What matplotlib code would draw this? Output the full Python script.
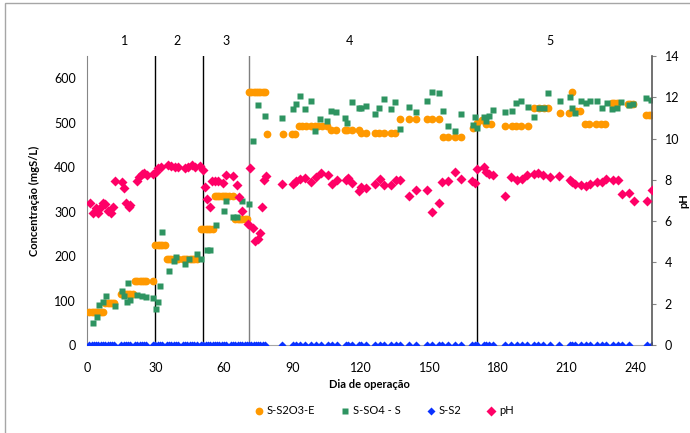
import matplotlib
matplotlib.use("Agg")
import matplotlib.pyplot as plt
from matplotlib.lines import Line2D
from matplotlib.patches import Rectangle

plt.rcParams['font.family'] = ['Lato', 'DejaVu Sans']

# S-S2O3-E (mgS/L)
dias_s2o3 = [1, 2, 3, 4, 5, 6, 7, 8, 9, 10, 11, 12, 15, 16, 17, 18, 19, 20,
             21, 22, 23, 24, 25, 26, 29, 30, 31, 32, 33, 34, 35, 36, 37, 38, 39, 40,
             42, 43, 44, 45, 46, 47, 48, 50, 51, 52, 53, 54, 55,
             56, 57, 58, 59, 60, 61, 62, 64, 65, 66, 67, 68, 69, 70,
             71, 72, 73, 74, 75, 76, 77, 78, 79, 86, 90, 91,
             93, 94, 96, 98, 100, 101, 103, 105, 107, 109, 113, 114, 116, 119,
             120, 122, 126, 128, 130, 133, 135, 137, 141, 144, 149, 151, 154,
             156, 158, 161, 164, 169, 171, 173, 175, 177,
             183, 186, 188, 190, 193, 196, 198, 200, 202, 207, 211, 212.5, 214, 216,
             218, 220, 223, 225, 227, 230, 231, 232, 237, 238, 239, 245, 246, 247]
s2o3 = [75, 75, 75, 75, 75, 75, 75, 95, 95, 95, 95, 95, 115, 115, 115, 115, 115, 115,
        145, 145, 145, 145, 145, 145, 145, 225, 225, 225, 225, 225, 193, 193, 193, 193, 193, 193,
        193, 193, 193, 193, 193, 193, 193, 261, 261, 261, 261, 261, 261,
        336, 336, 336, 336, 336, 336, 336, 336, 283, 283, 283, 283, 283, 283,
        568, 568, 568, 568, 568, 568, 568, 568, 474, 474, 474, 474,
        492, 492, 492, 492, 492, 492, 492, 492, 483, 483, 483, 483, 483, 483,
        477, 477, 477, 477, 477, 477, 477, 509, 509, 509, 509, 509, 509,
        468, 468, 468, 468, 487, 500, 507, 498, 498,
        492, 492, 492, 492, 492, 532, 532, 532, 532, 522, 522, 569, 527, 527,
        496, 496, 496, 496, 496, 545, 545, 545, 541, 541, 541, 518, 518, 518]

# S-SO4 - S (mgS/L)
dias_so4 = [2.8, 4.2, 5.4, 6.9, 8.3, 12.3, 15.2, 16.2, 17.4, 18, 19, 22, 24, 26, 29,
            30.2, 31, 32, 33, 36, 38.2, 39, 43, 44.8, 48, 50, 52.4, 54, 56.7, 60, 60.7,
            64, 65.8, 68, 70.8, 72.8, 74.7, 77.8, 85.6, 90.3, 91.7, 93.5, 95.5, 98.3,
            100, 102, 105, 107, 109, 113, 114, 116, 119, 120, 122, 126, 128, 130, 133,
            135, 137, 141, 144, 149, 151, 154, 156, 158, 161, 164, 169, 170, 171,
            174, 175, 176, 178, 183, 186, 188, 190, 193, 196, 198, 200, 202, 207,
            211.5, 212.6, 213.6, 216.6, 218.5, 220.5, 223.4, 225.6, 227.6, 230, 232,
            234, 237.6, 239, 244.9, 247]
so4 = [50, 64, 90, 97, 110, 88, 122, 110, 97, 139, 101, 112, 111, 109, 106,
       80, 97, 133, 254, 166, 189, 198, 182, 193, 204, 193, 213, 213, 270, 301, 323,
       288, 288, 323, 317, 458, 540, 514, 510, 530, 542, 560, 530, 548,
       482, 509, 504, 527, 524, 510, 500, 546, 533, 534, 537, 519, 534, 554, 531,
       546, 485, 536, 524, 548, 570, 567, 527, 493, 482, 519, 494, 513, 489,
       512, 504, 516, 528, 523, 527, 545, 548, 536, 513, 532, 532, 566, 548,
       557, 534, 522, 548, 545, 549, 548, 534, 545, 530, 534,
       547, 539, 541, 556, 552]

# S-S2 (mgS/L)
dias_s2 = [1, 2, 3, 4, 5, 6, 7, 8, 9, 10, 11, 12, 15, 16, 17, 18, 19, 21, 22, 23,
           24, 25, 26, 29, 30, 31, 32, 33, 35, 36, 37, 38, 39, 40, 42, 43, 44, 45,
           46, 47, 48, 50, 51, 52, 53, 54, 55, 56, 57, 58, 59, 60, 61, 63, 64, 65,
           66, 67, 68, 69, 70, 71, 72, 73, 74, 75, 76, 77, 78,
           85.6, 90.3, 91.5, 93.2, 95.4, 98.3, 100.5, 102.4, 105.5, 107.2, 109.5,
           113.3, 114.2, 116.3, 119, 120.2, 122.4, 126.2, 128.2, 130.1, 133.3,
           135.2, 137.3, 141.1, 144, 149, 151, 154, 155.6, 158.1, 161, 163.9,
           168.8, 169.8, 170.8, 173.7, 174.9, 176, 177.8, 182.9, 185.6, 188.5,
           190.7, 192.7, 195.6, 197.6, 199.7, 202.6, 206.7, 211.4, 212.6, 213.6,
           216.5, 218.4, 220.4, 223.3, 225.5, 227.4, 230.3, 232.5, 234.3, 237.3,
           245.2, 247.4]
s2 = [0] * len(dias_s2)

# pH
dias_ph = [1.3, 2.8, 3.9, 4.9, 5.9, 7.1, 8, 9.3, 10.4, 11.2, 12.1, 15.2, 16, 17,
           18.2, 19, 22, 22.9, 23.9, 24.9, 26.4, 29, 30.2, 31, 32.2, 35.6, 37, 38.5,
           40, 42.9, 44.3, 45.8, 47.4, 49.7, 51, 51.8, 52.7, 53.8, 54.6, 56, 57.5,
           59.4, 60.7, 63.8, 65.5, 66.7, 67.7, 70.6, 71.6, 72.8, 73.8, 74.7, 75.7,
           76.7, 77.6, 78.6, 85.6, 90.3, 91.5, 93.2, 95.4, 98.3, 100.5, 102.4,
           105.5, 107.2, 109.5, 113.3, 114.2, 116.3, 119, 120.2, 122.4, 126.2,
           128.2, 130.1, 133.3, 135.2, 137.3, 141.1, 144, 149, 151, 154, 155.6,
           158.1, 161, 163.9, 168.8, 169.8, 170.8, 173.7, 174.9, 176, 177.8,
           182.9, 185.6, 188.5, 190.7, 192.7, 195.6, 197.6, 199.7, 202.6, 206.7,
           211.4, 212.6, 213.6, 216.5, 218.4, 220.4, 223.3, 225.5, 227.4, 230.3,
           232.5, 234.3, 237.3, 239.4, 245.2, 247.4]
ph = [6.86, 6.38, 6.62, 6.38, 6.62, 6.86, 6.81, 6.49, 6.41, 6.67, 7.93, 7.91, 7.59, 6.89,
      6.70, 6.78, 7.96, 8.15, 8.28, 8.31, 8.24, 8.28, 8.40, 8.56, 8.64, 8.72, 8.69, 8.64,
      8.61, 8.56, 8.64, 8.72, 8.61, 8.69, 8.48, 7.67, 7.06, 6.70, 7.93, 7.93, 7.93,
      7.86, 8.25, 8.19, 7.77, 7.19, 6.51, 5.86, 8.57, 5.65, 5.05, 5.13, 5.41,
      6.70, 7.99, 8.20, 7.78, 7.80, 7.94, 8.04, 8.11, 7.91, 8.15, 8.32,
      8.22, 7.80, 7.99, 7.99, 8.09, 7.83, 7.46, 7.67, 7.59, 7.78,
      8.03, 7.73, 7.73, 7.99, 7.99, 7.22, 7.51, 7.51, 6.43, 6.88, 7.88,
      7.94, 8.36, 8.03, 7.94, 7.83, 8.53, 8.64, 8.40, 8.28, 8.25,
      7.22, 8.12, 7.99, 8.03, 8.22, 8.28, 8.32, 8.22, 8.12, 8.20,
      7.99, 7.88, 7.78, 7.75, 7.70, 7.80, 7.88, 7.88, 8.03, 7.99,
      7.99, 7.33, 7.35, 6.99, 6.99, 7.51]

# mudanças de fase
fases = [30, 50.9, 70.8, 171]
fase_labels = ['1', '2', '3', '4', '5']
fase_pos = [16.6, 39.4, 61, 115, 203]

c_s2o3 = '#FF9900'
c_so4 = '#2E9461'
c_s2 = '#0A32FF'
c_ph = '#FF0066'
cinza = '#868686'

fig = plt.figure(figsize=(6.9, 4.33), dpi=100)
fig.patches.append(Rectangle((5 / 690, -0.1), 1.2, 1 - 3 / 433 + 0.1,
                             transform=fig.transFigure, fill=False,
                             edgecolor='#A6A6A6', lw=1.0))
ax = fig.add_axes([87 / 690, 1 - 345 / 433, (652 - 87) / 690, (345 - 56) / 433])
ax2 = ax.twinx()

for i, x in enumerate(fases):
    ax.axvline(x, color='#7F7F7F' if i == 2 else 'black', lw=1.0, zorder=1)

ax.plot(dias_s2o3, s2o3, 'o', color=c_s2o3, ms=5.6, mec='none', zorder=3)
ax.plot(dias_so4, so4, 's', color=c_so4, ms=5, mec='none', zorder=3)
ax.plot(dias_s2, s2, 'D', color=c_s2, ms=4, mec='none', zorder=4)
ax2.plot(dias_ph, ph, 'D', color=c_ph, ms=4.6, mec='none', zorder=3)

ax.set_xlim(0, 247.5)
ax.set_ylim(0, 650)
ax2.set_ylim(0, 14)
ax.set_xticks(range(0, 241, 30))
ax.set_yticks(range(0, 601, 100))
ax2.set_yticks(range(0, 15, 2))

for a in (ax, ax2):
    a.spines['top'].set_visible(False)
    a.spines['left'].set_color(cinza)
    a.spines['bottom'].set_color('#A6A6A6')
    a.spines['right'].set_color('#595959')
    a.spines['right'].set_linewidth(1.2)
ax.spines['right'].set_visible(False)
ax2.spines['left'].set_visible(False)
ax2.spines['bottom'].set_visible(False)

ax.tick_params(axis='x', length=0, pad=12, labelsize=9)
ax.tick_params(axis='y', length=0, pad=8, labelsize=9)
ax2.tick_params(axis='y', length=3, color=cinza, pad=6, labelsize=9)

ax.set_ylabel('Concentração (mgS/L)', fontsize=8, fontweight='bold', labelpad=10)
ax.set_xlabel('Dia de operação', fontsize=8, fontweight='bold', labelpad=4)
ax2.set_ylabel('pH', fontsize=8, fontweight='bold', rotation=90, va='center')
ax2.yaxis.set_label_coords((684 - 87) / 565, 0.5)

for lab, x in zip(fase_labels, fase_pos):
    ax.text(x, 683, lab, ha='center', va='center', fontsize=9, clip_on=False)

handles = [
    Line2D([], [], ls='', marker='o', color=c_s2o3, ms=5.6, mec='none'),
    Line2D([], [], ls='', marker='s', color=c_so4, ms=5, mec='none'),
    Line2D([], [], ls='', marker='D', color=c_s2, ms=4, mec='none'),
    Line2D([], [], ls='', marker='D', color=c_ph, ms=4.6, mec='none'),
]
fig.legend(handles, ['S-S2O3-E', 'S-SO4 - S', 'S-S2', 'pH'],
           loc='center', bbox_to_anchor=(384 / 690, 1 - 411 / 433), ncol=4,
           frameon=False, fontsize=8, handletextpad=0.3, columnspacing=2.3,
           handlelength=0.8)

fig.savefig('out.png', dpi=100)
